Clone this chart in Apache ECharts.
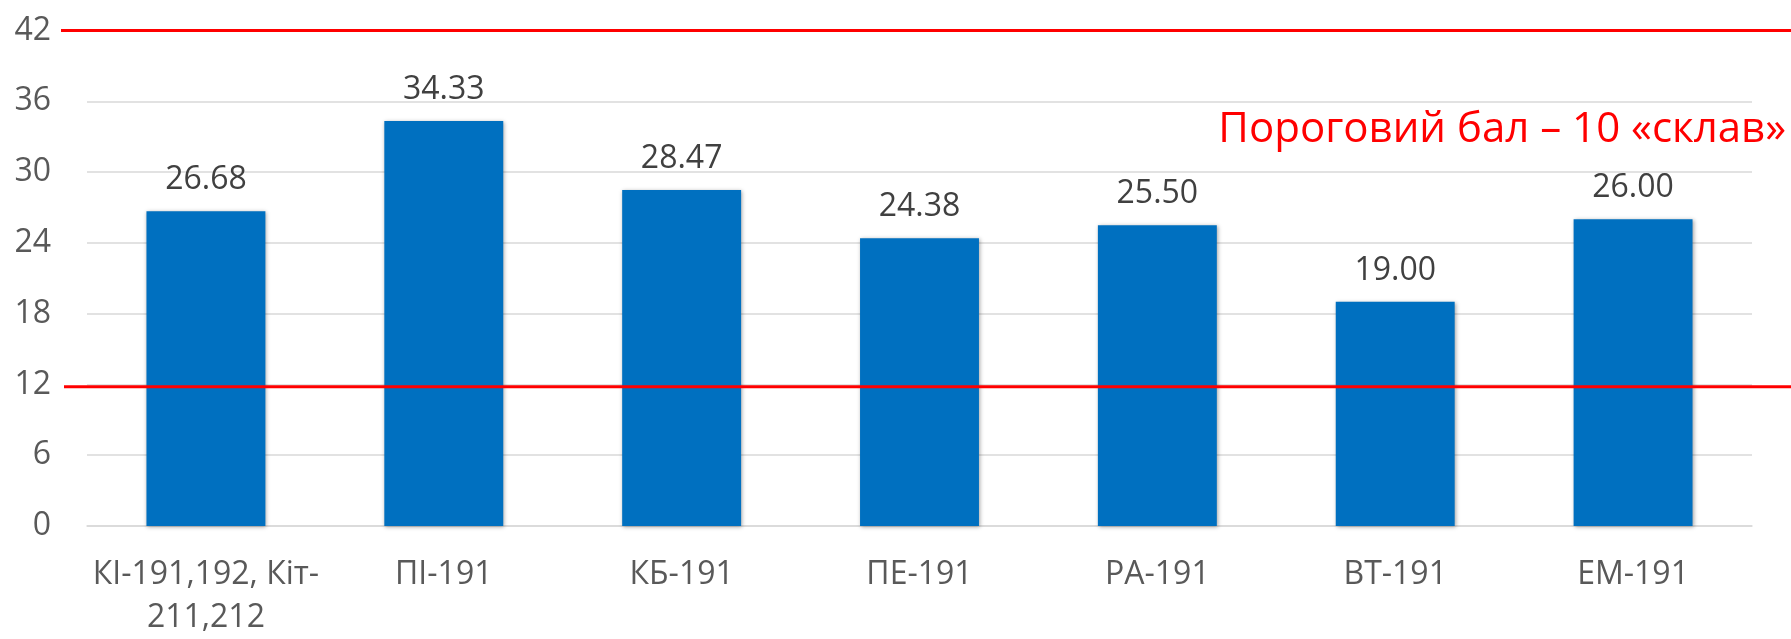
<!DOCTYPE html>
<html>
<head>
<meta charset="utf-8">
<script src="https://cdn.jsdelivr.net/npm/echarts@6/dist/echarts.min.js"></script>
<style>
  html, body { margin: 0; padding: 0; background: #fff; }
  #chart { width: 1791px; height: 639px; }
</style>
</head>
<body>
<div id="chart"></div>
<script>
// groups and their average scores
const groups = ['КІ-191,192, Кіт-\n211,212', 'ПІ-191', 'КБ-191', 'ПЕ-191', 'РА-191', 'ВТ-191', 'ЕМ-191'];
const scores = [26.68, 34.33, 28.47, 24.38, 25.50, 19.00, 26.00];
// red horizontal lines (as drawn on the original)
const redLines = [42, 11.8];
const noteText = 'Пороговий бал – 10 «склав»';

const font = '"Open Sans", sans-serif';
const chart = echarts.init(document.getElementById('chart'));

chart.setOption({
  animation: false,
  grid: { left: 87, right: 39, top: 30.5, bottom: 109 },
  xAxis: {
    type: 'category',
    data: groups,
    axisLine: { show: true, lineStyle: { color: '#d9d9d9', width: 1.5 } },
    axisTick: { show: false },
    axisLabel: {
      color: '#595959',
      fontFamily: font,
      fontSize: 32,
      lineHeight: 43,
      margin: 27,
      interval: 0
    }
  },
  yAxis: {
    type: 'value',
    min: 0,
    max: 42,
    interval: 6,
    axisLine: { show: false },
    axisTick: { show: false },
    splitLine: { lineStyle: { color: '#d9d9d9', width: 1.5 } },
    axisLabel: {
      color: '#595959',
      fontFamily: font,
      fontSize: 32,
      margin: 36
    }
  },
  series: [{
    type: 'bar',
    data: scores,
    barWidth: '50%',
    itemStyle: {
      color: '#0070c0',
      shadowColor: 'rgba(0,0,0,0.35)',
      shadowBlur: 4,
      shadowOffsetX: 1,
      shadowOffsetY: 1
    },
    label: {
      show: true,
      position: 'top',
      distance: 15,
      color: '#404040',
      fontFamily: font,
      fontSize: 32,
      formatter: p => p.value.toFixed(2)
    }
  }]
});

// red lines span beyond the plot, so draw them as graphics placed via the y scale
const starts = [61, 64];
chart.setOption({
  graphic: redLines.map((v, i) => {
    const y = chart.convertToPixel({ yAxisIndex: 0 }, v);
    return {
      type: 'line',
      z: 100,
      shape: { x1: starts[i], y1: y, x2: 1791, y2: y },
      style: { stroke: '#ff0000', lineWidth: 3 }
    };
  }).concat([{
    type: 'text',
    z: 100,
    right: 5,
    top: 109,
    style: {
      text: noteText,
      fill: '#ff0000',
      font: '42px ' + font
    }
  }])
});
</script>
</body>
</html>
